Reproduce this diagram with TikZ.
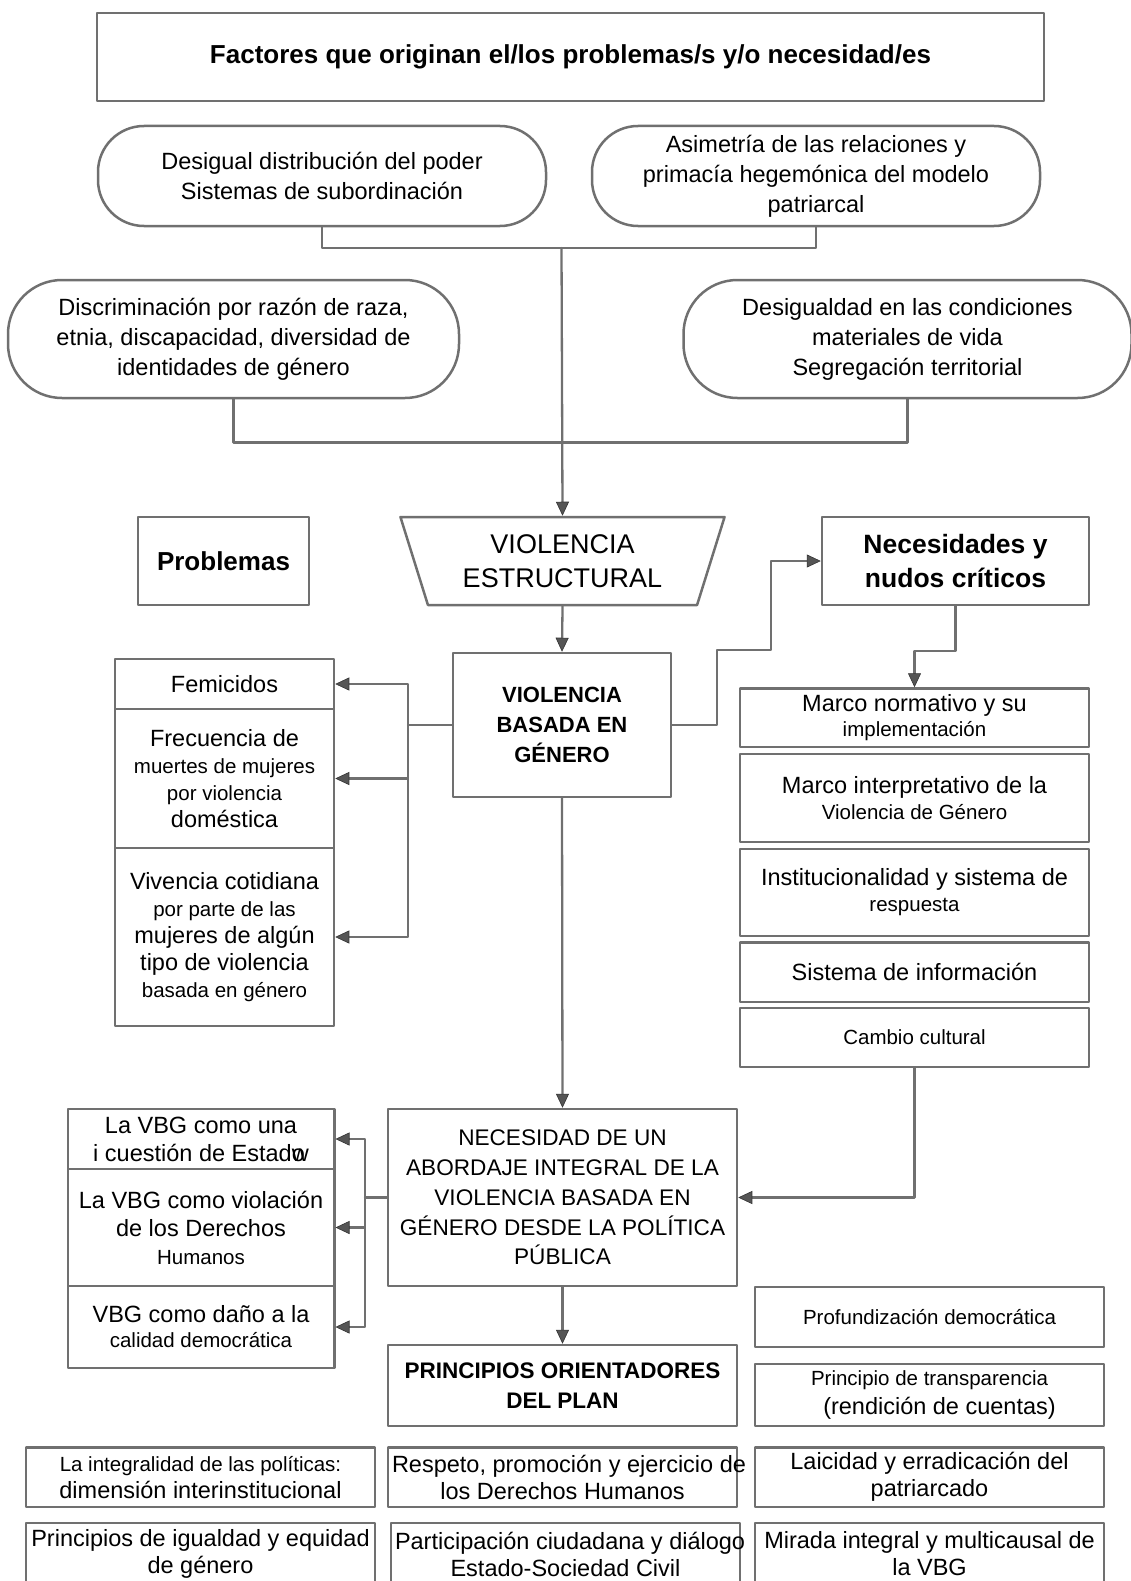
\documentclass[tikz,border=0pt]{standalone}
\usepackage{fontspec}
\setmainfont{Liberation Sans}
\usepackage{tikz}
\usetikzlibrary{shapes.geometric}
\usetikzlibrary{arrows.meta}
\definecolor{borde}{RGB}{112,112,112}
\definecolor{punta}{RGB}{85,85,85}
\newcommand{\grande}{\fontsize{23.5}{28}\selectfont}
\newcommand{\chico}{\fontsize{20.5}{26}\selectfont}
\tikzset{
  caja/.style={draw=borde,line width=2.5pt,rectangle,inner xsep=4pt,inner ysep=0pt,align=flush center,font=\grande},
  ovalo/.style={caja,font=\fontsize{23.5}{30}\selectfont},
  flujo/.style={draw=borde,line width=2.3pt}
}
\begin{document}
\begin{tikzpicture}[line cap=round,line join=round,>={Triangle[width=13pt,length=14pt,color=black!80,fill=punta,line width=0.6pt]},x=1pt,y=-1pt]
\useasboundingbox (0,0) rectangle (1131,1581);
%\draw[help lines,step=50] (0,0) grid (1131,1581);
\node[caja,font=\fontsize{26}{30}\selectfont\bfseries,text width=939pt,minimum height=88pt] (titulo) at (570.5,57) {Factores que originan el/los problemas/s y/o necesidad/es};
\node[ovalo,rounded corners=46pt,text width=440pt,minimum height=100pt] (poder) at (322,176) {Desigual distribución del poder\\Sistemas de subordinación};
\node[ovalo,rounded corners=46pt,text width=440pt,minimum height=100pt] (asimetria) at (816,176) {Asimetría de las relaciones y\\primacía hegemónica del modelo\\patriarcal};
\node[ovalo,rounded corners=54pt,text width=443pt,minimum height=118pt] (discrim) at (233.5,339) {Discriminación por razón de raza,\\etnia, discapacidad, diversidad de\\identidades de género};
\node[ovalo,rounded corners=54pt,text width=440pt,minimum height=118pt] (desig) at (907.5,339) {Desigualdad en las condiciones\\materiales de vida\\Segregación territorial};
\coordinate (j1) at (561.5,248);
\coordinate (j2) at (561.5,442.5);
\draw[flujo] (poder.south) |- (j1) -| (asimetria.south);
\draw[flujo] (discrim.south) |- (j2) -| (desig.south);
\node[draw=borde,line width=2.5pt,trapezium,trapezium left angle=111,trapezium right angle=111,trapezium stretches=true,minimum width=325pt,minimum height=88pt,inner sep=0pt,align=center,font=\fontsize{27}{34}\selectfont] (estruct) at (562.5,561) {VIOLENCIA\\ESTRUCTURAL};
\draw[flujo,->] (j1) -- (estruct.north);
\node[caja,font=\fontsize{26}{30}\selectfont\bfseries,text width=163pt,minimum height=88pt] (problemas) at (223.5,561) {Problemas};
\node[caja,font=\fontsize{26.5}{34}\selectfont\bfseries,text width=259pt,minimum height=88pt] (necesidades) at (955.5,561) {Necesidades y\\nudos críticos};
\node[caja,font=\fontsize{22}{30}\selectfont\bfseries,text width=210pt,minimum height=144pt] (vbg) at (562,725) {VIOLENCIA\\BASADA EN\\GÉNERO};
\draw[flujo,->] (estruct.south) -- (vbg.north);
% problemas
\node[caja,text width=211pt,minimum height=50pt] (femicidios) at (224.5,684) {Femicidos};
\node[caja,font=\fontsize{23.5}{27}\selectfont,text width=211pt,minimum height=139pt] (frecuencia) at (224.5,778.5) {Frecuencia de\\{\chico muertes de mujeres}\\{\chico por violencia}\\doméstica};
\node[caja,font=\fontsize{23.5}{27}\selectfont,text width=211pt,minimum height=178pt] (vivencia) at (224.5,937) {Vivencia cotidiana\\{\chico por parte de las}\hspace*{14pt}\\mujeres de algún\\tipo de violencia\\{\chico basada en género}\hspace*{14pt}};
\coordinate (b1) at (408,725);
\draw[flujo] (vbg.west) -- (b1);
\draw[flujo,->] (b1) |- (femicidios.east);
\draw[flujo,->] (b1) |- (frecuencia.east);
\draw[flujo,->] (b1) |- (vivencia.east);
% nudos criticos
\draw[flujo,->] (vbg.east) -- ++(45,0) -- ++(0,-75) -- ++(54,0) |- (necesidades.west);
\node[caja,font=\fontsize{23.5}{25}\selectfont,text width=341pt,minimum height=58.5pt] (normativo) at (914.5,717.75) {Marco normativo y su\\{\chico implementación}};
\node[caja,font=\fontsize{23.5}{26}\selectfont,text width=341pt,minimum height=88pt] (interpretativo) at (914.5,798) {Marco interpretativo de la\\{\chico Violencia de Género}\hspace*{20pt}};
\node[caja,font=\fontsize{23.5}{26}\selectfont,text width=341pt,minimum height=87pt] (institucional) at (914.5,892.5) {Institucionalidad y sistema de\\{\chico respuesta}};
\node[caja,text width=341pt,minimum height=59.5pt] (informacion) at (914.5,972.25) {Sistema de información};
\node[caja,font=\chico,text width=341pt,minimum height=59pt] (cultural) at (914.5,1037.5) {Cambio cultural\hspace*{20pt}};
\draw[flujo,->] (necesidades.south) -- ++(0,45) -| (normativo.north);
% abordaje
\node[caja,font=\fontsize{22.6}{29.75}\selectfont,text width=341pt,minimum height=177pt] (necesidad) at (562.5,1197.5) {NECESIDAD DE UN\\ABORDAJE INTEGRAL DE LA\\VIOLENCIA BASADA EN\\GÉNERO DESDE LA POLÍTICA\\PÚBLICA};
\draw[flujo,->] (vbg.south) -- (necesidad.north);
\draw[flujo,->] (cultural.south) |- (necesidad.east);
\node[caja,text width=258.5pt,minimum height=60pt] (cuestion) at (201,1139) {La VBG como una\\i cuestión de Estad\rlap{o}w};
\node[caja,text width=258.5pt,minimum height=117pt] (violacion) at (201,1227.5) {La VBG como violación\\de los Derechos\\{\chico Humanos}};
\node[caja,font=\fontsize{23.5}{25}\selectfont,text width=258.5pt,minimum height=82pt] (dano) at (201,1327) {VBG como daño a la\\{\chico calidad democrática}};
\coordinate (b2) at (365,1197.5);
\draw[flujo] (necesidad.west) -- (b2);
\draw[flujo,->] (b2) |- (cuestion.east);
\draw[flujo,->] (b2) |- (violacion.east);
\draw[flujo,->] (b2) |- (dano.east);
% principios
\node[caja,font=\fontsize{22.5}{30}\selectfont\bfseries,text width=341pt,minimum height=81pt] (principios) at (562.5,1385.5) {PRINCIPIOS ORIENTADORES\\DEL PLAN};
\draw[flujo,->] (necesidad.south) -- (principios.north);
\node[caja,font=\chico,text width=341pt,minimum height=60pt] (profundizacion) at (929.5,1317) {Profundización democrática};
\node[caja,font=\fontsize{23.5}{29}\selectfont,text width=341pt,minimum height=62pt] (transparencia) at (929.5,1395) {{\chico Principio de transparencia}\hspace*{10pt}\\\hspace*{20pt}(rendición de cuentas)};
\node[caja,font=\fontsize{23.5}{27}\selectfont,text width=341pt,minimum height=59.5pt] (integralidad) at (200.5,1477.25) {{\chico La integralidad de las políticas:}\hspace*{20pt}\\dimensión interinstitucional};
\node[caja,font=\fontsize{23.5}{27}\selectfont,text width=341pt,minimum height=59.5pt] (respeto) at (562.5,1477.25) {\mbox{Respeto, promoción y ejercicio de}\\los Derechos Humanos};
\node[caja,font=\fontsize{23.5}{27}\selectfont,text width=341pt,minimum height=59.5pt] (laicidad) at (929.5,1477.25) {Laicidad y erradicación del\\patriarcado};
\node[caja,font=\fontsize{23.5}{27}\selectfont,text width=341pt,minimum height=62pt] (igualdad) at (200.5,1554) {\mbox{Principios de igualdad y equidad}\\de género};
\node[caja,font=\fontsize{23.5}{27}\selectfont,text width=341pt,minimum height=62pt] (participacion) at (565.5,1554) {\mbox{Participación ciudadana y diálogo}\\Estado-Sociedad Civil};
\node[caja,font=\fontsize{23.5}{27}\selectfont,text width=341pt,minimum height=62pt] (mirada) at (929.5,1554) {\mbox{Mirada integral y multicausal de}\\la VBG};
\end{tikzpicture}
\end{document}
